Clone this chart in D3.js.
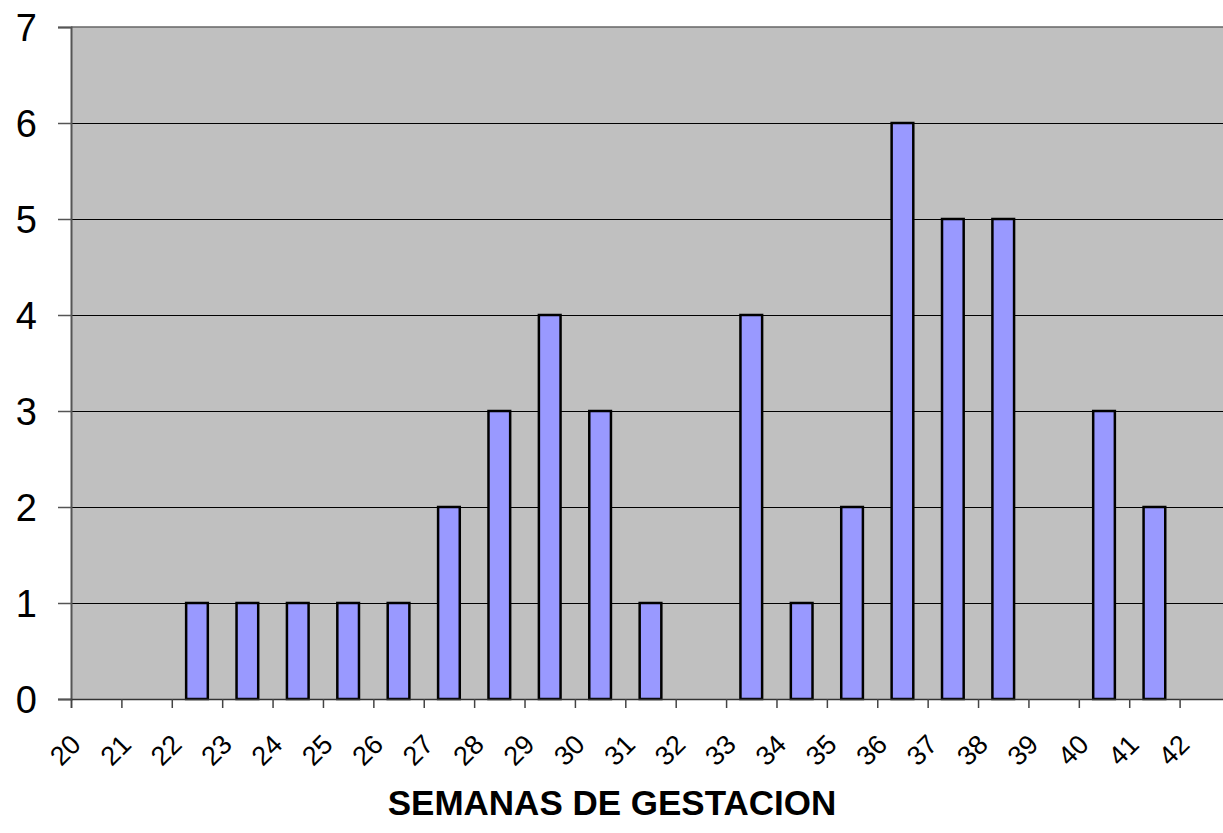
<!DOCTYPE html>
<html>
<head>
<meta charset="utf-8">
<script src="https://cdn.jsdelivr.net/npm/d3@7"></script>
<style>
  html, body { margin: 0; padding: 0; background: #ffffff; }
  svg { display: block; }
</style>
</head>
<body>
<svg id="chart" width="1223" height="833"></svg>
<script>
// Data
const weeks = [20,21,22,23,24,25,26,27,28,29,30,31,32,33,34,35,36,37,38,39,40,41,42];
const counts = [0,0,1,1,1,1,1,2,3,4,3,1,0,4,1,2,6,5,5,0,3,2,0];
const yTicks = [0,1,2,3,4,5,6,7];
const xTitle = "SEMANAS DE GESTACION";

(function () {
const svg = d3.select("#chart");
const pLeft = 71, pRight = 1230, pTop = 27, pBottom = 699;

const x = d3.scaleLinear().domain([20, 43]).range([pLeft, pRight]);
const y = d3.scaleLinear().domain([0, 7]).range([pBottom, pTop]);
const step = x(21) - x(20);
const barW = step * 0.43;

// plot background
svg.append("rect")
  .attr("x", pLeft).attr("y", pTop)
  .attr("width", pRight - pLeft).attr("height", pBottom - pTop)
  .attr("fill", "#c0c0c0");

// gridlines
svg.append("g").selectAll("line")
  .data(yTicks.filter(d => d > 0 && d < 7))
  .join("line")
  .attr("x1", pLeft).attr("x2", pRight)
  .attr("y1", d => y(d)).attr("y2", d => y(d))
  .attr("stroke", "#000").attr("stroke-width", 1)
  .attr("shape-rendering", "crispEdges");

// top border
svg.append("line")
  .attr("x1", pLeft).attr("x2", pRight)
  .attr("y1", y(7)).attr("y2", y(7))
  .attr("stroke", "#666").attr("stroke-width", 1.5);

// bars
svg.append("g").selectAll("rect")
  .data(weeks.map((w, i) => ({w, v: counts[i]})).filter(d => d.v > 0))
  .join("rect")
  .attr("x", d => x(d.w + 0.5) - barW / 2)
  .attr("y", d => y(d.v))
  .attr("width", barW)
  .attr("height", d => y(0) - y(d.v))
  .attr("fill", "#9999ff")
  .attr("stroke", "#000")
  .attr("stroke-width", 2.5);

// y axis
const yAxis = d3.axisLeft(y).tickValues(yTicks).tickSize(13).tickFormat(d3.format("d"));
const gy = svg.append("g").attr("transform", `translate(${pLeft},0)`).call(yAxis);
gy.attr("font-size", null).attr("font-family", null);
gy.select(".domain").attr("stroke", "#555").attr("stroke-width", 2);
gy.selectAll(".tick line").attr("stroke", "#555").attr("stroke-width", 1.5);
gy.selectAll(".tick text")
  .attr("x", -34)
  .attr("dy", "0.36em")
  .style("font-family", "'Liberation Sans', Arial, sans-serif")
  .style("font-size", "38px")
  .attr("fill", "#000");

// x axis
const xAxis = d3.axisBottom(x).tickValues(weeks).tickSize(9).tickFormat(d3.format("d"));
const gx = svg.append("g").attr("transform", `translate(0,${pBottom})`).call(xAxis);
gx.attr("font-size", null).attr("font-family", null);
gx.select(".domain").attr("stroke", "#333").attr("stroke-width", 1.5);
gx.selectAll(".tick line").attr("stroke", "#444").attr("stroke-width", 1.5);
gx.selectAll(".tick text")
  .attr("y", 0).attr("dy", 0)
  .attr("transform", "translate(11,47) rotate(-45)")
  .attr("text-anchor", "end")
  .style("font-family", "'Liberation Sans', Arial, sans-serif")
  .style("font-size", "27px")
  .attr("fill", "#000");

// x title
svg.append("text")
  .attr("x", 612).attr("y", 815)
  .attr("text-anchor", "middle")
  .style("font-family", "'Liberation Sans', Arial, sans-serif")
  .style("font-weight", "bold")
  .style("font-size", "35px")
  .attr("fill", "#000")
  .text(xTitle);
})();
</script>
</body>
</html>
